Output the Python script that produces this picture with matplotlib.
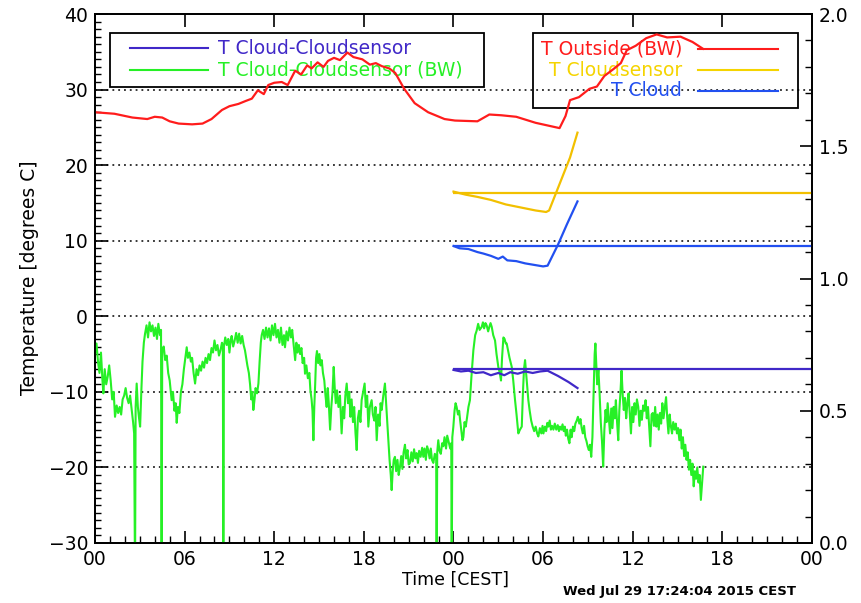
import matplotlib
matplotlib.use("Agg")
import matplotlib.pyplot as plt
from matplotlib.ticker import MultipleLocator, FormatStrFormatter
from matplotlib.patches import Rectangle

# Hours since Tue 00:00 CEST, temperatures in degrees C

# T Outside (BW)
outside_h = [0, 1.3, 2.5, 3.5, 4.0, 4.5, 5.0, 5.6, 6.5, 7.2, 7.8, 8.5, 9.0, 9.6, 10.1,
             10.5, 10.9, 11.3, 11.6, 12.0, 12.5, 12.9, 13.4, 13.8, 14.2, 14.5, 14.9, 15.3,
             15.6, 16.0, 16.4, 16.9, 17.3, 17.9, 18.4, 18.8, 19.2, 19.7, 20.1, 20.7, 21.4,
             22.3, 23.4, 24.1, 25.6, 26.4, 27.2, 28.2, 29.5, 31.1, 31.5, 31.8, 32.4, 33.1,
             33.6, 34.1, 34.7, 35.2, 35.6, 36.2, 36.9, 37.6, 38.3, 39.2, 40.0, 40.7]
outside_t = [27.0, 26.8, 26.3, 26.1, 26.4, 26.3, 25.8, 25.5, 25.4, 25.5, 26.1, 27.3, 27.8,
             28.1, 28.5, 28.8, 29.9, 29.4, 30.6, 30.9, 31.0, 30.6, 32.5, 32.0, 33.2, 32.8,
             33.6, 33.0, 33.8, 34.2, 33.9, 34.9, 34.3, 34.0, 33.3, 33.5, 33.1, 32.8, 32.2,
             30.1, 28.2, 27.0, 26.1, 25.9, 25.8, 26.7, 26.6, 26.4, 25.6, 24.9, 26.5, 28.6,
             29.0, 30.1, 30.4, 31.8, 32.7, 33.5, 35.2, 35.8, 36.8, 37.3, 36.9, 37.0, 36.3,
             35.4]

# T Cloud-Cloudsensor (BW), first day
bw1_h = [0.00, 0.10, 0.20, 0.30, 0.40, 0.50, 0.56, 0.65, 0.75, 0.85, 0.95, 1.05, 1.15,
         1.25, 1.34, 1.45, 1.55, 1.65, 1.75, 1.85, 1.95, 2.05, 2.15, 2.25, 2.35, 2.46, 2.55,
         2.62, 2.68, 2.72, 2.79, 2.87, 2.95, 3.02, 3.10, 3.18, 3.27, 3.35, 3.45, 3.55, 3.65,
         3.75, 3.85, 3.95, 4.05, 4.15, 4.24, 4.35, 4.42, 4.46, 4.50, 4.60, 4.70, 4.80, 4.90,
         5.00, 5.13, 5.22, 5.32, 5.40, 5.47, 5.55, 5.65, 5.75, 5.85, 5.95, 6.05, 6.14, 6.22,
         6.32, 6.42, 6.50, 6.60, 6.70, 6.80, 6.90, 7.00, 7.10, 7.20, 7.30, 7.40, 7.50, 7.60,
         7.70, 7.80, 7.90, 8.00, 8.10, 8.20, 8.30, 8.40, 8.50, 8.56, 8.59, 8.63, 8.72, 8.82,
         8.92, 9.00, 9.08, 9.15, 9.25, 9.35, 9.45, 9.55, 9.65, 9.75, 9.85, 9.95, 10.04,
         10.12, 10.20, 10.30, 10.38, 10.46, 10.53, 10.60, 10.68, 10.75, 10.85, 10.94, 11.02,
         11.10, 11.16, 11.25, 11.35, 11.45, 11.55, 11.65, 11.75, 11.85, 11.95, 12.05, 12.15,
         12.25, 12.35, 12.45, 12.55, 12.65, 12.72, 12.82, 12.92, 13.02, 13.12, 13.20, 13.30,
         13.40, 13.48, 13.56, 13.65, 13.73, 13.82, 13.90, 14.00, 14.06, 14.15, 14.25, 14.35,
         14.42, 14.50, 14.56, 14.62, 14.68, 14.74, 14.80, 14.86, 14.94, 15.02, 15.10, 15.18,
         15.26, 15.35, 15.43, 15.51, 15.58, 15.65, 15.74, 15.82, 15.90, 15.98, 16.05, 16.12,
         16.20, 16.30, 16.40, 16.51, 16.60, 16.68, 16.76, 16.85, 16.94, 17.02, 17.10, 17.18,
         17.27, 17.35, 17.44, 17.52, 17.60, 17.68, 17.77, 17.85, 17.95, 18.05, 18.13, 18.22,
         18.30, 18.40, 18.52, 18.60, 18.70, 18.78, 18.86, 18.95, 19.05, 19.12, 19.19, 19.30,
         19.41, 19.50, 19.58, 19.64, 19.72, 19.80, 19.86, 19.93, 20.00, 20.08, 20.16, 20.25,
         20.33, 20.42, 20.50, 20.58, 20.66, 20.75, 20.83, 20.92, 21.00, 21.09, 21.18, 21.27,
         21.36, 21.45, 21.53, 21.62, 21.70, 21.80, 21.90, 21.98, 22.06, 22.15, 22.23, 22.31,
         22.40, 22.48, 22.56, 22.65, 22.75, 22.84, 22.87, 22.91, 22.98, 23.06, 23.15, 23.24,
         23.32, 23.40, 23.50, 23.58, 23.65, 23.78, 23.85, 23.88, 23.92]
bw1_t = [-5.0, -3.6, -6.0, -7.5, -4.8, -8.5, -10.2, -7.0, -9.0, -8.0, -6.5, -8.5, -11.0,
         -10.0, -13.3, -11.8, -12.8, -12.0, -13.0, -11.0, -10.5, -9.5, -10.8, -11.5, -10.5,
         -12.4, -14.0, -15.5, -35.0, -12.0, -8.9, -12.0, -13.5, -14.6, -10.0, -6.0, -3.5,
         -2.3, -1.2, -2.8, -0.8, -2.0, -1.2, -2.6, -1.5, -3.0, -1.0, -2.5, -1.8, -35.0, -4.5,
         -4.0, -5.8, -5.2, -7.5, -8.5, -11.1, -10.0, -12.5, -11.5, -14.1, -12.0, -12.8,
         -10.0, -9.0, -7.0, -5.5, -4.1, -5.5, -4.8, -6.0, -5.5, -7.5, -8.9, -7.0, -7.8, -6.5,
         -7.2, -6.0, -6.8, -5.5, -6.2, -5.0, -5.8, -4.2, -4.8, -3.2, -4.5, -3.8, -5.2, -4.5,
         -3.5, -4.0, -35.0, -4.0, -2.8, -3.8, -3.0, -4.8, -3.2, -2.6, -4.0, -3.2, -2.2, -3.5,
         -2.3, -3.6, -2.6, -3.8, -4.5, -5.5, -6.5, -7.5, -9.0, -11.0, -10.0, -12.4, -11.0,
         -9.5, -10.2, -8.9, -6.0, -3.5, -2.5, -1.8, -3.0, -1.5, -2.8, -1.6, -3.2, -1.2, -2.5,
         -1.0, -2.8, -1.8, -3.5, -1.5, -3.8, -2.5, -4.1, -2.0, -3.2, -1.5, -2.8, -1.8, -3.8,
         -5.8, -3.5, -4.8, -3.8, -5.0, -4.2, -6.2, -5.5, -7.6, -6.5, -8.2, -7.5, -9.8, -11.0,
         -12.5, -16.4, -12.0, -9.0, -5.5, -4.6, -6.2, -5.0, -6.5, -5.8, -7.5, -8.5, -10.5,
         -12.0, -9.5, -11.5, -15.0, -12.0, -10.0, -6.7, -9.5, -11.5, -9.8, -12.0, -10.5,
         -15.5, -12.0, -13.5, -10.5, -8.9, -11.5, -10.0, -13.3, -11.0, -14.0, -12.0, -15.5,
         -17.7, -13.5, -12.5, -14.0, -11.1, -10.0, -8.9, -12.0, -10.5, -14.6, -12.0, -11.1,
         -13.0, -13.8, -12.0, -16.4, -13.0, -14.5, -11.5, -12.4, -10.5, -8.9, -12.0, -14.5,
         -16.4, -19.0, -21.0, -23.0, -20.5, -19.0, -18.6, -20.5, -19.0, -21.0, -19.9, -18.5,
         -20.2, -18.0, -17.0, -18.8, -17.7, -19.6, -19.4, -18.0, -19.2, -17.6, -18.8, -18.1,
         -19.4, -17.8, -18.6, -17.4, -18.6, -17.5, -19.0, -17.2, -17.7, -18.8, -17.5, -19.0,
         -19.4, -18.2, -18.5, -35.0, -18.0, -16.4, -17.8, -18.2, -16.8, -17.2, -16.0, -17.5,
         -15.8, -16.4, -17.5, -16.8, -35.0, -16.0]

# T Cloud-Cloudsensor (BW), second day
bw2_h = [23.99, 24.07, 24.14, 24.21, 24.30, 24.38, 24.44, 24.52, 24.60, 24.66, 24.74,
         24.82, 24.90, 25.00, 25.10, 25.20, 25.33, 25.45, 25.55, 25.65, 25.75, 25.89, 25.97,
         26.05, 26.14, 26.22, 26.32, 26.40, 26.48, 26.56, 26.66, 26.78, 26.88, 27.00, 27.10,
         27.18, 27.25, 27.34, 27.42, 27.50, 27.56, 27.65, 27.75, 27.90, 28.00, 28.12, 28.22,
         28.34, 28.45, 28.57, 28.65, 28.72, 28.79, 28.88, 29.01, 29.10, 29.20, 29.30, 29.40,
         29.50, 29.60, 29.68, 29.78, 29.88, 29.96, 30.02, 30.12, 30.20, 30.28, 30.35, 30.44,
         30.52, 30.60, 30.69, 30.78, 30.88, 30.98, 31.06, 31.13, 31.22, 31.30, 31.38, 31.45,
         31.52, 31.60, 31.68, 31.76, 31.84, 31.91, 32.00, 32.08, 32.16, 32.25, 32.33, 32.42,
         32.50, 32.58, 32.66, 32.74, 32.82, 32.90, 32.98, 33.06, 33.14, 33.22, 33.30, 33.38,
         33.45, 33.50, 33.55, 33.62, 33.70, 33.78, 33.86, 33.94, 34.02, 34.10, 34.18, 34.25,
         34.32, 34.40, 34.48, 34.56, 34.64, 34.72, 34.80, 34.87, 34.95, 35.03, 35.10, 35.18,
         35.25, 35.33, 35.40, 35.48, 35.56, 35.64, 35.72, 35.80, 35.88, 35.96, 36.04, 36.12,
         36.20, 36.28, 36.37, 36.45, 36.53, 36.61, 36.70, 36.78, 36.86, 36.94, 37.02, 37.10,
         37.18, 37.26, 37.34, 37.42, 37.50, 37.58, 37.66, 37.74, 37.82, 37.90, 37.98, 38.06,
         38.15, 38.23, 38.31, 38.39, 38.47, 38.55, 38.63, 38.71, 38.80, 38.88, 38.96, 39.04,
         39.12, 39.20, 39.28, 39.36, 39.44, 39.52, 39.60, 39.68, 39.76, 39.84, 39.92, 40.00,
         40.08, 40.16, 40.24, 40.32, 40.40, 40.48, 40.56, 40.64, 40.72]
bw2_t = [-14.6, -12.5, -11.5, -12.0, -13.0, -12.5, -13.7, -15.0, -16.4, -16.0, -14.0, -14.6,
         -13.5, -12.0, -11.1, -8.0, -4.5, -2.5, -1.9, -1.0, -1.8, -1.4, -0.8, -1.6, -0.9,
         -1.2, -2.0, -1.4, -0.9, -1.4, -2.5, -3.2, -5.0, -6.7, -7.5, -8.5, -5.5, -2.8, -3.0,
         -3.6, -3.6, -4.5, -5.5, -6.7, -8.5, -11.1, -13.0, -15.5, -15.0, -14.6, -10.0, -7.0,
         -5.8, -8.0, -11.1, -12.5, -13.8, -14.6, -15.2, -14.6, -15.5, -15.9, -14.8, -15.5,
         -14.5, -15.5, -14.6, -15.2, -14.1, -14.6, -13.8, -15.0, -14.5, -15.0, -14.2, -15.0,
         -14.4, -15.2, -14.6, -15.0, -14.3, -15.2, -14.6, -15.8, -15.0, -16.2, -16.8, -15.0,
         -16.0, -14.6, -15.2, -14.2, -13.8, -13.3, -14.2, -13.6, -14.8, -15.5, -14.5, -16.0,
         -16.5, -17.2, -17.7, -17.0, -18.6, -16.0, -10.0, -5.0, -3.6, -6.0, -9.0, -7.0,
         -10.2, -14.0, -16.5, -19.9, -15.0, -12.4, -14.0, -11.5, -13.5, -15.5, -12.2, -14.8,
         -12.0, -13.5, -11.1, -14.0, -16.4, -12.5, -10.0, -7.2, -10.5, -12.4, -10.8, -13.5,
         -11.5, -10.2, -12.8, -15.5, -12.0, -14.0, -11.5, -13.0, -11.0, -12.0, -14.5, -12.5,
         -13.7, -11.8, -12.5, -11.1, -13.5, -12.0, -14.5, -17.2, -13.0, -12.8, -14.5, -12.0,
         -14.6, -13.0, -15.0, -12.8, -14.2, -11.5, -13.5, -12.0, -10.7, -13.5, -15.5, -13.0,
         -14.5, -15.5, -14.0, -15.0, -14.2, -15.5, -14.8, -16.4, -15.0, -17.5, -16.0, -18.5,
         -17.0, -19.0, -18.0, -20.3, -19.0, -21.0, -19.5, -22.5, -20.5, -21.5, -20.0, -22.0,
         -21.0, -24.3, -22.0, -19.9]

# T Cloud-Cloudsensor
diff_h = [24.0, 24.5, 25.0, 25.5, 26.0, 26.5, 27.0, 27.4, 27.8, 28.3, 28.8, 29.3, 29.8,
          30.3, 31.0, 31.7, 32.3]
diff_t = [-7.1, -7.3, -7.2, -7.5, -7.4, -7.8, -7.5, -7.8, -7.4, -7.6, -7.3, -7.5, -7.3,
          -7.2, -7.9, -8.7, -9.5]
diff_now = -7.0

# T Cloud
cloud_h = [24.0, 24.4, 25.0, 25.6, 26.0, 26.5, 27.0, 27.3, 27.6, 28.2, 28.8, 29.4, 30.0,
           30.3, 31.0, 31.6, 32.3]
cloud_t = [9.3, 9.0, 8.9, 8.5, 8.3, 8.0, 7.6, 7.9, 7.4, 7.3, 7.0, 6.8, 6.6, 6.7, 9.5,
           12.2, 15.2]
cloud_now = 9.3

# T Cloudsensor
sensor_h = [24.0, 24.8, 25.6, 26.5, 27.5, 28.5, 29.5, 30.2, 30.4, 31.1, 31.8, 32.3]
sensor_t = [16.5, 16.1, 15.8, 15.4, 14.8, 14.4, 14.0, 13.8, 14.0, 17.5, 21.0, 24.3]
sensor_now = 16.3

hour_labels = ["00", "06", "12", "18", "00", "06", "12", "18", "00"]
stamp = "Wed Jul 29 17:24:04 2015 CEST"

RED = "#ff1c1c"
GREEN = "#26f026"
PURPLE = "#4028c8"
BLUE = "#2250f0"
GOLD = "#f2c000"

W, H = 862, 603


def fx(x):
    return x / W


def fy(y):
    return 1 - y / H


plt.rcParams["font.family"] = "DejaVu Sans"
fig = plt.figure(figsize=(W / 100, H / 100), dpi=100)
ax = fig.add_axes([95 / W, 1 - 543 / H, 717 / W, 529 / H])
ax.set_xlim(0, 48)
ax.set_ylim(-30, 40)

for v in [-20, -10, 0, 10, 20, 30]:
    ax.axhline(v, color="black", lw=1.1, ls=(0, (1.2, 2.6)), zorder=1)

ax.plot(bw1_h + bw2_h, bw1_t + bw2_t, color=GREEN, lw=1.5, zorder=3)
ax.plot(outside_h, outside_t, color=RED, lw=1.6, zorder=4)
ax.plot(sensor_h, sensor_t, color=GOLD, lw=1.6, zorder=4)
ax.hlines(sensor_now, 24, 48, color=GOLD, lw=1.6, zorder=4)
ax.plot(cloud_h, cloud_t, color=BLUE, lw=1.6, zorder=4)
ax.hlines(cloud_now, 24, 48, color=BLUE, lw=1.6, zorder=4)
ax.plot(diff_h, diff_t, color=PURPLE, lw=1.6, zorder=5)
ax.hlines(diff_now, 24, 48, color=PURPLE, lw=1.6, zorder=5)

# legend boxes, kept underneath the curves
tf = fig.transFigure
ax.add_patch(Rectangle((fx(110), fy(87)), (484 - 110) / W, (87 - 33) / H, transform=tf,
                       fill=False, ec="black", lw=1.3, zorder=2))
ax.add_patch(Rectangle((fx(533), fy(108)), (798 - 533) / W, (108 - 33) / H, transform=tf,
                       fill=False, ec="black", lw=1.3, zorder=2))

left_entries = [("T Cloud-Cloudsensor", PURPLE, 48), ("T Cloud-Cloudsensor (BW)", GREEN, 70)]
for label, col, yy in left_entries:
    ax.plot([fx(130), fx(208)], [fy(yy), fy(yy)], transform=tf, color=col, lw=1.5, zorder=2)
    ax.text(fx(218), fy(yy), label, transform=tf, color=col, fontsize=13.5,
            ha="left", va="center", zorder=2)

right_entries = [("T Outside (BW)", RED, 49), ("T Cloudsensor", "#f5d400", 70),
                 ("T Cloud", BLUE, 91)]
for label, col, yy in right_entries:
    ax.plot([fx(698), fx(778)], [fy(yy), fy(yy)], transform=tf, color=col, lw=1.5, zorder=2)
    ax.text(fx(682), fy(yy), label, transform=tf, color=col, fontsize=13.5,
            ha="right", va="center", zorder=2)

# axes and ticks
ax.set_xticks(range(0, 49, 6))
ax.set_xticklabels(hour_labels)
ax.xaxis.set_minor_locator(MultipleLocator(1))
ax.yaxis.set_major_locator(MultipleLocator(10))
ax.yaxis.set_minor_locator(MultipleLocator(1))
ax.tick_params(which="major", direction="in", length=9, width=1.2, top=True, right=False,
               labelsize=13.5, pad=5)
ax.tick_params(which="minor", direction="in", length=4.5, width=1.0, top=False, right=False)
ax.tick_params(axis="x", which="minor", length=5)
for s in ax.spines.values():
    s.set_linewidth(1.3)

ax2 = ax.twinx()
ax2.set_ylim(0, 2)
ax2.yaxis.set_major_locator(MultipleLocator(0.5))
ax2.yaxis.set_minor_locator(MultipleLocator(0.1))
ax2.yaxis.set_major_formatter(FormatStrFormatter("%.1f"))
ax2.tick_params(which="major", direction="in", length=9, width=1.2, labelsize=13.5, pad=5)
ax2.tick_params(which="minor", direction="in", length=5, width=1.0)
for s in ax2.spines.values():
    s.set_linewidth(1.3)

fig.text(fx(30), fy(278), "Temperature [degrees C]", rotation=90, ha="center", va="center",
         fontsize=13.5)
fig.text(fx(455), fy(580), "Time [CEST]", ha="center", va="center", fontsize=12.5)
fig.text(fx(563), fy(591), stamp, ha="left", va="center", fontsize=9.5, fontweight="bold")

fig.savefig("out.png", dpi=100)
